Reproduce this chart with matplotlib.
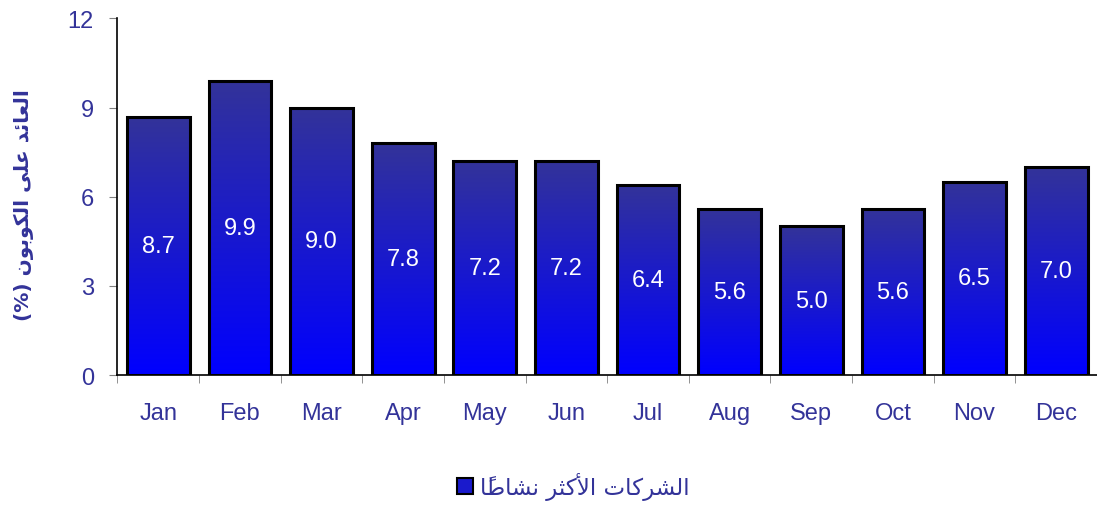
import numpy as np
import matplotlib
matplotlib.use("Agg")
import matplotlib.pyplot as plt
from matplotlib.colors import LinearSegmentedColormap
from matplotlib.lines import Line2D

months = ["Jan", "Feb", "Mar", "Apr", "May", "Jun",
          "Jul", "Aug", "Sep", "Oct", "Nov", "Dec"]
values = [8.7, 9.9, 9.0, 7.8, 7.2, 7.2, 6.4, 5.6, 5.0, 5.6, 6.5, 7.0]
yticks = [0, 3, 6, 9, 12]
ylabel_ar = "العائد على الكوبون (%)"
legend_ar = "الشركات الأكثر نشاطاً"

TXT = "#333399"

# --- minimal Arabic shaping (matplotlib has no bidi / joining) ---
FORMS = {  # iso, fin, ini, med
    "ا": ("\uFE8D", "\uFE8E", None, None),
    "أ": ("\uFE83", "\uFE84", None, None),
    "ب": ("\uFE8F", "\uFE90", "\uFE91", "\uFE92"),
    "ت": ("\uFE95", "\uFE96", "\uFE97", "\uFE98"),
    "ث": ("\uFE99", "\uFE9A", "\uFE9B", "\uFE9C"),
    "د": ("\uFEA9", "\uFEAA", None, None),
    "ر": ("\uFEAD", "\uFEAE", None, None),
    "ش": ("\uFEB5", "\uFEB6", "\uFEB7", "\uFEB8"),
    "ط": ("\uFEC1", "\uFEC2", "\uFEC3", "\uFEC4"),
    "ع": ("\uFEC9", "\uFECA", "\uFECB", "\uFECC"),
    "ك": ("\uFED9", "\uFEDA", "\uFEDB", "\uFEDC"),
    "ل": ("\uFEDD", "\uFEDE", "\uFEDF", "\uFEE0"),
    "ن": ("\uFEE5", "\uFEE6", "\uFEE7", "\uFEE8"),
    "و": ("\uFEED", "\uFEEE", None, None),
    "ى": ("\uFEEF", "\uFEF0", None, None),
    "ئ": ("\uFE89", "\uFE8A", "\uFE8B", "\uFE8C"),
}
LAMALEF = {"ا": ("\uFEFB", "\uFEFC"), "أ": ("\uFEF7", "\uFEF8")}
MIRROR = {"(": ")", ")": "("}


def is_mark(c):
    return "\u064B" <= c <= "\u0652"


def dual(c):
    return c in FORMS and FORMS[c][2] is not None


def shape(s):
    chars = list(s)
    n = len(chars)

    def nb(i, step):
        j = i + step
        while 0 <= j < n and is_mark(chars[j]):
            j += step
        return chars[j] if 0 <= j < n else ""

    out = []  # clusters in logical order
    i = 0
    while i < n:
        c = chars[i]
        if is_mark(c):
            out[-1] += c
            i += 1
            continue
        if c not in FORMS:
            out.append(c)
            i += 1
            continue
        prev = nb(i, -1)
        nxt = nb(i, 1)
        jp = dual(prev)
        if c == "ل" and nxt in LAMALEF:
            out.append(LAMALEF[nxt][1 if jp else 0])
            i += 2
            continue
        jn = dual(c) and nxt in FORMS
        f = FORMS[c]
        if jp and jn:
            g = f[3]
        elif jp:
            g = f[1]
        elif jn:
            g = f[2]
        else:
            g = f[0]
        out.append(g)
        i += 1
    return "".join(MIRROR.get(cl, cl) for cl in reversed(out))


fig = plt.figure(figsize=(10.97, 5.06), dpi=100)
ax = fig.add_axes([0.1071, 0.2569, 0.8929, 0.7046])

cmap = LinearSegmentedColormap.from_list("bar", ["#0000FF", "#333399"])
grad = np.linspace(0, 1, 256).reshape(-1, 1)
x = np.arange(len(months))
w = 0.77
for xi, v in zip(x, values):
    ax.imshow(grad, cmap=cmap, origin="lower", aspect="auto",
              extent=[xi - w / 2, xi + w / 2, 0, v], zorder=2)
ax.bar(x, values, width=w, facecolor="none", edgecolor="black",
       linewidth=2.2, zorder=3)
for xi, v in zip(x, values):
    ax.text(xi, v / 2, f"{v:.1f}", ha="center", va="center", color="white",
            fontsize=17, family="Liberation Sans", zorder=4)

ax.set_xlim(-0.5, len(months) - 0.5)
ax.set_ylim(0, 12)
ax.set_yticks(yticks)
ax.set_xticks(x)
ax.set_xticklabels(months)
ax.set_xticks(np.arange(-0.5, len(months), 1), minor=True)
ax.tick_params(axis="x", which="major", length=0, pad=19.5)
ax.tick_params(axis="x", which="minor", length=5.5, color="#808080")
ax.tick_params(axis="y", length=6, color="#808080", pad=11)
for lab in ax.get_xticklabels() + ax.get_yticklabels():
    lab.set_color(TXT)
    lab.set_fontsize(17)
    lab.set_family("Liberation Sans")
for s in ("top", "right"):
    ax.spines[s].set_visible(False)
for s in ("left", "bottom"):
    ax.spines[s].set_linewidth(1.2)

fig.text(0.022, 0.595, shape(ylabel_ar), rotation=90, ha="center",
         va="center", color=TXT, fontsize=14.5, fontweight="bold",
         family="DejaVu Sans")

handle = Line2D([], [], marker="s", linestyle="none", markersize=11,
                markerfacecolor="#1a1acc", markeredgecolor="black",
                markeredgewidth=1.5)
fig.legend([handle], [shape(legend_ar)], loc="center",
           bbox_to_anchor=(0.521, 0.038), frameon=False, handletextpad=0.15,
           handlelength=1.0, prop={"family": "DejaVu Sans", "size": 16.5},
           labelcolor=TXT)

fig.savefig("out.png", dpi=100)
